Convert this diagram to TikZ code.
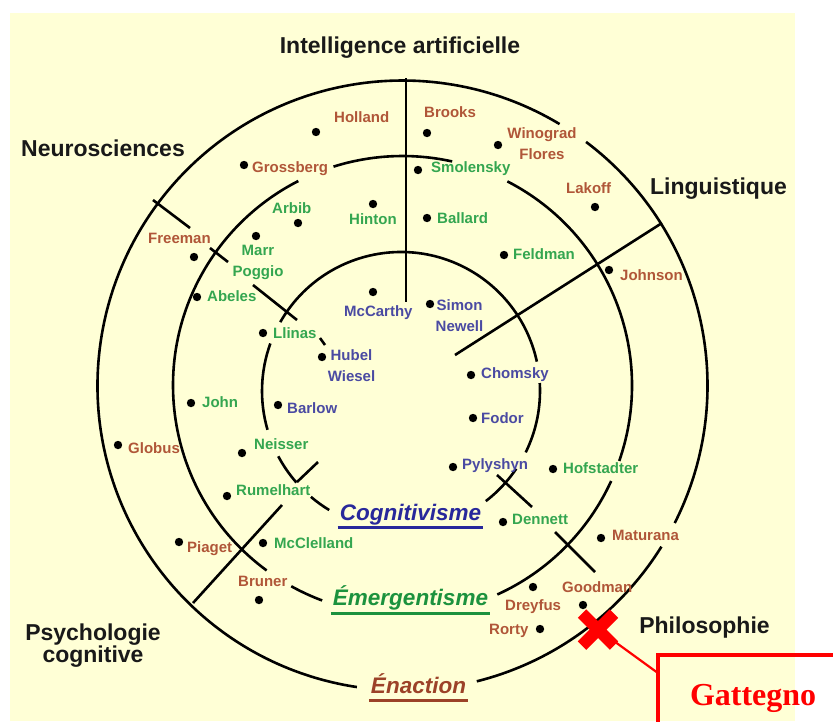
\documentclass[tikz,border=0pt]{standalone}
\usepackage{fontspec}
\setmainfont{Liberation Sans}
\newfontfamily\gatfont{Liberation Serif}
\usetikzlibrary{calc}
\definecolor{paper}{RGB}{255,255,214}
\definecolor{namered}{RGB}{176,86,56}
\definecolor{namegreen}{RGB}{52,166,80}
\definecolor{nameblue}{RGB}{74,74,162}
\definecolor{cogblue}{RGB}{40,40,155}
\definecolor{emegreen}{RGB}{28,146,62}
\definecolor{enabrown}{RGB}{156,66,40}

\begin{document}
\begin{tikzpicture}[x=1pt,y=-1pt,
    ring/.style={line width=2.6pt},
    person/.style={font=\fontsize{15}{21}\selectfont\bfseries,inner sep=0pt,anchor=base west},
    enact/.style={person,text=namered},
    emerg/.style={person,text=namegreen},
    cogn/.style={person,text=nameblue},
    field/.style={font=\fontsize{23}{21}\selectfont\bfseries,text=black!90,inner sep=0pt,anchor=base},
    paradigm/.style={font=\fontsize{22.5}{26}\selectfont\bfseries\itshape,inner sep=0pt,anchor=base}]
        %% Background
        \useasboundingbox (0,0) rectangle (833,721);
        \fill[paper] (10,13) rectangle (795,721);
        %% Rings
        \coordinate (O) at (402.5,385.5);
        \coordinate (I) at (401,391);
        \foreach \a/\b in {98.6/301,-53/26.8,31.9/75.9}
            \draw[ring] (O) ++(\a:305) arc[start angle=\a,end angle=\b,radius=305];
        \foreach \a/\b in {110.5/119,126.3/243,252.5/282.5,297.2/379.2,24.6/65.6}
            \draw[ring] (O) ++(\a:229.5) arc[start angle=\a,end angle=\b,radius=229.5];
        \foreach \a/\b in {121.1/130.4,138.8/152,163.8/200,209.7/347.8,356.7/386.2,34/52.4}
            \draw[ring] (I) ++(\a:139) arc[start angle=\a,end angle=\b,radius=139];
        %% Borders between fields
        \draw[ring] (406,78) -- (406,302);
        \draw[ring] (455,355) -- (662,223);
        \draw[ring] (153,200) -- (190,228);
        \draw[ring] (210,248) -- (228,262);
        \draw[ring] (253,285) -- (297,320);
        \draw[ring] (318,462) -- (297,482);
        \draw[ring] (282,505) -- (193,603);
        \draw[ring] (497,475) -- (532,507);
        \draw[ring] (555,532) -- (595,572);
        \draw[ring] (320,338) -- (325,345);
        %% Fields
        \node[field] (ia) at (400,53) {Intelligence artificielle};
        \node[field] (neuro) at (103,156) {Neurosciences};
        \node[field] (lingu) at (718.5,194) {Linguistique};
        \node[field,anchor=north,align=center] (psycho) at (93,623.5) {Psychologie\\cognitive};
        \node[field] (philo) at (704.5,633) {Philosophie};
        %% Paradigms
        \node[paradigm,text=cogblue] (cognitivisme) at (410.5,520) {Cognitivisme};
        \draw[line width=3pt,cogblue] ([xshift=-2pt,yshift=-7pt]cognitivisme.base west) -- ([xshift=2pt,yshift=-7pt]cognitivisme.base east);
        \node[paradigm,text=emegreen] (emergentisme) at (410.5,605) {Émergentisme};
        \draw[line width=3pt,emegreen] ([xshift=-2pt,yshift=-8pt]emergentisme.base west) -- ([xshift=2pt,yshift=-8pt]emergentisme.base east);
        \node[paradigm,text=enabrown] (enaction) at (418.5,693) {Énaction};
        \draw[line width=3pt,enabrown] ([xshift=-2pt,yshift=-7pt]enaction.base west) -- ([xshift=2pt,yshift=-7pt]enaction.base east);
        %% People
        \fill (316,132) circle[radius=4.2];
        \node[enact] (holland) at (334,122) {Holland};
        \fill (427,133) circle[radius=4.2];
        \node[enact] (brooks) at (424,117) {Brooks};
        \fill (498,145) circle[radius=4.2];
        \node[enact,anchor=north,align=center] (winograd) at (542,127.5) {Winograd\\Flores};
        \fill (244,165) circle[radius=4.2];
        \node[enact] (grossberg) at (252,172) {Grossberg};
        \fill (418,170) circle[radius=4.2];
        \node[emerg] (smolensky) at (431,172) {Smolensky};
        \fill (595,207) circle[radius=4.2];
        \node[enact] (lakoff) at (566,193) {Lakoff};
        \fill (298,223) circle[radius=4.2];
        \node[emerg] (arbib) at (272,213) {Arbib};
        \fill (373,204) circle[radius=4.2];
        \node[emerg] (hinton) at (349,224) {Hinton};
        \fill (427,218) circle[radius=4.2];
        \node[emerg] (ballard) at (437,223) {Ballard};
        \fill (256,236) circle[radius=4.2];
        \node[emerg,anchor=north,align=center] (marr) at (258,244.8) {Marr\\Poggio};
        \fill (194,257) circle[radius=4.2];
        \node[enact] (freeman) at (148,243) {Freeman};
        \fill (197,297) circle[radius=4.2];
        \node[emerg] (abeles) at (207,301) {Abeles};
        \fill (263,333) circle[radius=4.2];
        \node[emerg] (llinas) at (273,338) {Llinas};
        \fill (373,292) circle[radius=4.2];
        \node[cogn] (mccarthy) at (344,316) {McCarthy};
        \fill (430,304) circle[radius=4.2];
        \node[cogn,anchor=north,align=center] (simon) at (459.5,299.8) {Simon\\Newell};
        \fill (322,357) circle[radius=4.2];
        \node[cogn,anchor=north,align=center] (hubel) at (351.5,349.5) {Hubel\\Wiesel};
        \fill (504,255) circle[radius=4.2];
        \node[emerg] (feldman) at (513,259) {Feldman};
        \fill (609,270) circle[radius=4.2];
        \node[enact] (johnson) at (620,280) {Johnson};
        \fill (471,375) circle[radius=4.2];
        \node[cogn] (chomsky) at (481,378) {Chomsky};
        \fill (191,403) circle[radius=4.2];
        \node[emerg] (john) at (202,407) {John};
        \fill (278,405) circle[radius=4.2];
        \node[cogn] (barlow) at (287,413) {Barlow};
        \fill (473,418) circle[radius=4.2];
        \node[cogn] (fodor) at (481,423) {Fodor};
        \fill (118,445) circle[radius=4.2];
        \node[enact] (globus) at (128,453) {Globus};
        \fill (242,453) circle[radius=4.2];
        \node[emerg] (neisser) at (254,449) {Neisser};
        \fill (453,467) circle[radius=4.2];
        \node[cogn] (pylyshyn) at (462,469) {Pylyshyn};
        \fill (553,469) circle[radius=4.2];
        \node[emerg] (hofstadter) at (563,473) {Hofstadter};
        \fill (227,496) circle[radius=4.2];
        \node[emerg] (rumelhart) at (236,495) {Rumelhart};
        \fill (503,522) circle[radius=4.2];
        \node[emerg] (dennett) at (512,524) {Dennett};
        \fill (601,538) circle[radius=4.2];
        \node[enact] (maturana) at (612,540) {Maturana};
        \fill (179,542) circle[radius=4.2];
        \node[enact] (piaget) at (187,552) {Piaget};
        \fill (263,543) circle[radius=4.2];
        \node[emerg] (mcclelland) at (274,548) {McClelland};
        \fill (259,600) circle[radius=4.2];
        \node[enact] (bruner) at (238,586) {Bruner};
        \fill (583,605) circle[radius=4.2];
        \node[enact] (goodman) at (562,592) {Goodman};
        \fill (533,587) circle[radius=4.2];
        \node[enact] (dreyfus) at (505,610) {Dreyfus};
        \fill (540,629) circle[radius=4.2];
        \node[enact] (rorty) at (489,634) {Rorty};
        %% Gattegno
        \coordinate (cross) at (598,629.5);
        \node[draw=red,line width=4pt,outer sep=0pt,anchor=north west,text width=170pt,inner xsep=32pt,minimum height=86pt,
            font=\gatfont\fontsize{32}{36}\selectfont\bfseries,text=red] (gattegno) at (658,655) {Gattegno};
        \draw[red,line width=2.2pt] (cross) -- ($(gattegno.north west)!0.21!(gattegno.south west)$);
        \draw[red,line width=12pt] ($(cross)+(-16,-16)$) -- ($(cross)+(16,16)$)
            ($(cross)+(-16,16)$) -- ($(cross)+(16,-16)$);
    \end{tikzpicture}
\end{document}
